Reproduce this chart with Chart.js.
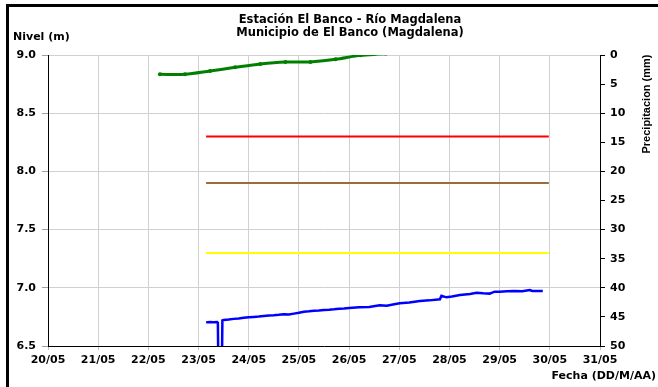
<!DOCTYPE html>
<html><head><meta charset="utf-8">
<script src="https://cdn.jsdelivr.net/npm/chart.js@4.4.1/dist/chart.umd.min.js"></script>
<style>
html,body{margin:0;padding:0;background:#fff;overflow:hidden}
#wrap{position:relative;width:658px;height:387px;overflow:hidden}
#frame{position:absolute;left:6px;top:4px;width:700px;height:420px;border-left:3px solid #000;border-top:3px solid #000;pointer-events:none}
canvas{position:absolute;left:0;top:0}
</style></head><body>
<div id="wrap"><canvas id="c" width="658" height="387"></canvas><div id="frame"></div></div>
<script>
// ---- data (x = days after 20/05) ----
const dateLabels = ['20/05','21/05','22/05','23/05','24/05','25/05','26/05','27/05','28/05','29/05','30/05','31/05'];
const titleLines = ['Estación El Banco - Río Magdalena','Municipio de El Banco (Magdalena)'];
const greenDays  = [2.23, 2.73, 3.23, 3.73, 4.23, 4.73, 5.23, 5.73, 6.23, 6.73, 7.23];
const greenLevel = [8.834, 8.834, 8.863, 8.894, 8.923, 8.940, 8.940, 8.963, 8.997, 9.012, 9.040];
const blueDays  = [3.15, 3.22, 3.30, 3.37, 3.385, 3.395, 3.465, 3.475, 3.50, 3.60, 3.70, 3.80, 3.90, 4.00, 4.10, 4.20, 4.30, 4.40, 4.50, 4.60, 4.70, 4.80, 4.90, 5.00, 5.10, 5.20, 5.30, 5.40, 5.50, 5.60, 5.70, 5.80, 5.90, 6.00, 6.20, 6.40, 6.61, 6.75, 6.90, 7.01, 7.20, 7.41, 7.60, 7.81, 7.84, 7.94, 8.05, 8.21, 8.41, 8.54, 8.67, 8.80, 8.90, 9.00, 9.14, 9.30, 9.45, 9.60, 9.65, 9.75, 9.86];
const blueLevel = [6.703, 6.706, 6.704, 6.706, 6.700, 6.300, 6.300, 6.720, 6.723, 6.727, 6.733, 6.737, 6.742, 6.747, 6.750, 6.753, 6.758, 6.762, 6.764, 6.768, 6.773, 6.770, 6.778, 6.785, 6.795, 6.798, 6.803, 6.806, 6.810, 6.812, 6.815, 6.820, 6.822, 6.826, 6.832, 6.836, 6.850, 6.846, 6.858, 6.867, 6.874, 6.887, 6.892, 6.901, 6.932, 6.918, 6.925, 6.938, 6.947, 6.958, 6.953, 6.950, 6.967, 6.967, 6.970, 6.972, 6.970, 6.981, 6.973, 6.972, 6.972];
const thresholdDays = [3.15, 9.98];
const redLevel    = [8.30, 8.30];
const brownLevel  = [7.90, 7.90];
const yellowLevel = [7.30, 7.30];
const levelTicks = [6.5, 7.0, 7.5, 8.0, 8.5, 9.0];
const rainTicks  = [0, 5, 10, 15, 20, 25, 30, 35, 40, 45, 50];

const pts = (xs, ys) => xs.map((x, i) => ({x: x, y: ys[i]}));
const FONT = '"DejaVu Sans", sans-serif';

const textPlugin = {
  id: 'texts',
  afterDraw(chart) {
    const ctx = chart.ctx;
    ctx.save();
    ctx.fillStyle = '#000';
    ctx.font = 'bold 11.5px ' + FONT;
    ctx.textAlign = 'center'; ctx.textBaseline = 'middle';
    ctx.fillText(titleLines[0], 350, 20);
    ctx.fillText(titleLines[1], 350, 33);
    ctx.font = 'bold 11px ' + FONT;
    ctx.textAlign = 'left';
    ctx.fillText('Nivel (m)', 13, 37);
    ctx.textAlign = 'right';
    ctx.fillText('Fecha (DD/M/AA)', 656, 376);
    ctx.translate(647, 104);
    ctx.rotate(-Math.PI / 2);
    ctx.textAlign = 'center';
    ctx.font = 'bold 11px "Liberation Sans", Arial, sans-serif';
    ctx.fillText('Precipitacion (mm)', 0, 0);
    ctx.restore();
  }
};

new Chart(document.getElementById('c'), {
  type: 'line',
  data: {
    datasets: [
      {data: pts(greenDays, greenLevel), borderColor: '#008000', backgroundColor: '#008000', borderWidth: 3, pointRadius: 2, pointBorderWidth: 0, yAxisID: 'y', tension: 0.3},
      {data: pts(thresholdDays, redLevel), borderColor: '#ff0000', borderWidth: 2, pointRadius: 0, yAxisID: 'y'},
      {data: pts(thresholdDays, brownLevel), borderColor: '#9c6b3c', borderWidth: 2, pointRadius: 0, yAxisID: 'y'},
      {data: pts(thresholdDays, yellowLevel), borderColor: '#ffff00', borderWidth: 2, pointRadius: 0, yAxisID: 'y'},
      {data: pts(blueDays, blueLevel), borderColor: '#0000ff', borderWidth: 2.5, pointRadius: 0, yAxisID: 'y', clip: 0}
    ]
  },
  options: {
    responsive: false, animation: false, devicePixelRatio: 1,
    layout: {padding: {left: 0, right: 0, top: 55, bottom: 0}},
    plugins: {legend: {display: false}, title: {display: false}, tooltip: {enabled: false}},
    scales: {
      x: {
        type: 'linear', min: 0, max: 11,
        afterFit: s => { s.height = 41; },
        afterBuildTicks: s => { s.ticks = dateLabels.map((_, i) => ({value: i})); },
        ticks: {callback: v => dateLabels[v], color: '#000', font: {family: FONT, weight: 'bold', size: 11}, padding: 4, maxRotation: 0, autoSkip: false},
        grid: {color: '#d0d0d0', lineWidth: 1, tickLength: 4, tickColor: '#c0c0c0'},
        border: {color: '#000', width: 1}
      },
      y: {
        position: 'left', min: 6.5, max: 9.0,
        afterFit: s => { s.width = 48; },
        afterBuildTicks: s => { s.ticks = levelTicks.map(v => ({value: v})); },
        ticks: {callback: v => Number(v).toFixed(1), color: '#000', font: {family: FONT, weight: 'bold', size: 11}, padding: 6},
        grid: {color: '#d0d0d0', lineWidth: 1, tickLength: 6, tickColor: '#a0a0a0'},
        border: {color: '#000', width: 1}
      },
      y2: {
        position: 'right', min: 0, max: 50, reverse: true,
        afterFit: s => { s.width = 58; },
        afterBuildTicks: s => { s.ticks = rainTicks.map(v => ({value: v})); },
        ticks: {color: '#000', font: {family: FONT, weight: 'bold', size: 11}, padding: 5},
        grid: {drawOnChartArea: false, tickLength: 5, tickColor: '#000'},
        border: {color: '#000', width: 1}
      }
    }
  },
  plugins: [textPlugin]
});
</script>
</body></html>
